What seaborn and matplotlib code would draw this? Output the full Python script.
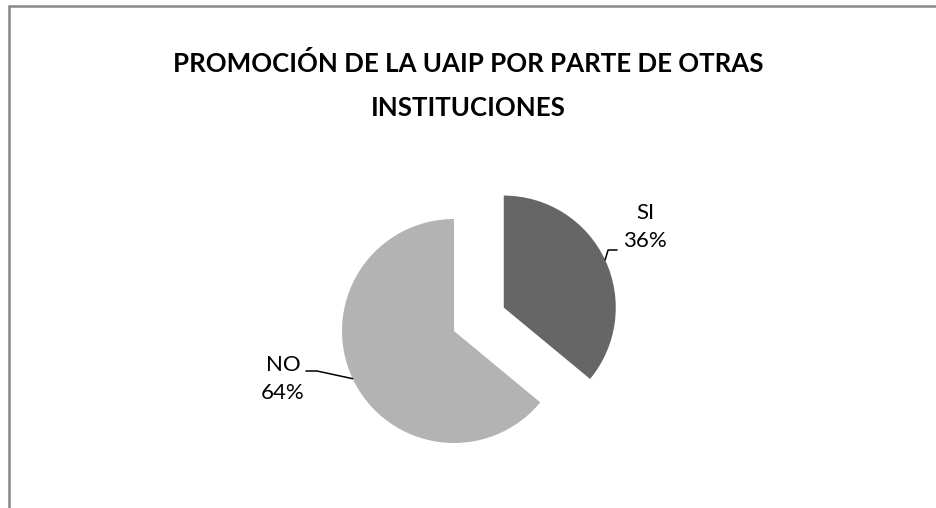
import matplotlib
matplotlib.use("Agg")
import matplotlib.pyplot as plt
import seaborn as sns
import numpy as np

# data
categories = ["SI", "NO"]
values = [36, 64]
colors = ["#666666", "#b3b3b3"]
title = "PROMOCIÓN DE LA UAIP POR PARTE DE OTRAS\nINSTITUCIONES"

sns.set_theme(style="white")
plt.rcParams['font.family'] = ['Lato', 'DejaVu Sans']

W, H = 937, 508
fig = plt.figure(figsize=(W / 100, H / 100), dpi=100)
ax = fig.add_axes([0, 0, 1, 1])

# outer chart frame (only top and left edges visible in the crop)
fig.add_artist(plt.Line2D([9.5 / W, 9.5 / W], [0, 1 - 5.5 / H], transform=fig.transFigure,
                          color="#888888", lw=1.8))
fig.add_artist(plt.Line2D([9.5 / W, 1], [1 - 5.5 / H, 1 - 5.5 / H], transform=fig.transFigure,
                          color="#888888", lw=1.8))

# explode is in data units here (axes are in pixels)
wedges, _ = ax.pie(values, colors=colors, startangle=90, counterclock=False,
                   explode=[55, 0], center=(454, H - 331), radius=112,
                   wedgeprops=dict(linewidth=0))
ax.set_xlim(0, W)
ax.set_ylim(0, H)
ax.set_aspect("equal")
ax.axis("off")

# labels with leader lines
label_pos = {"SI": (645, H - 227), "NO": (283, H - 379)}
for w, cat, val in zip(wedges, categories, values):
    ang = np.deg2rad((w.theta1 + w.theta2) / 2)
    cx, cy = w.center
    ex, ey = cx + w.r * np.cos(ang), cy + w.r * np.sin(ang)
    lx, ly = label_pos[cat]
    if cat == "SI":
        pts = [(ex, ey), (ex + 3, H - 250), (lx - 28, H - 250)]
    else:
        pts = [(ex, ey), (lx + 34, H - 371), (lx + 23, H - 371)]
    xs, ys = zip(*pts)
    ax.plot(xs, ys, color="black", lw=1.1)
    ax.text(lx, ly, f"{cat}\n{val}%", ha="center", va="center", fontsize=16,
            linespacing=1.45, color="black")

fig.text(468 / W, 1 - 86 / H, title, ha="center", va="center", fontsize=18.6,
         fontweight="bold", linespacing=2.0, color="black")

fig.savefig("out.png", dpi=100)
